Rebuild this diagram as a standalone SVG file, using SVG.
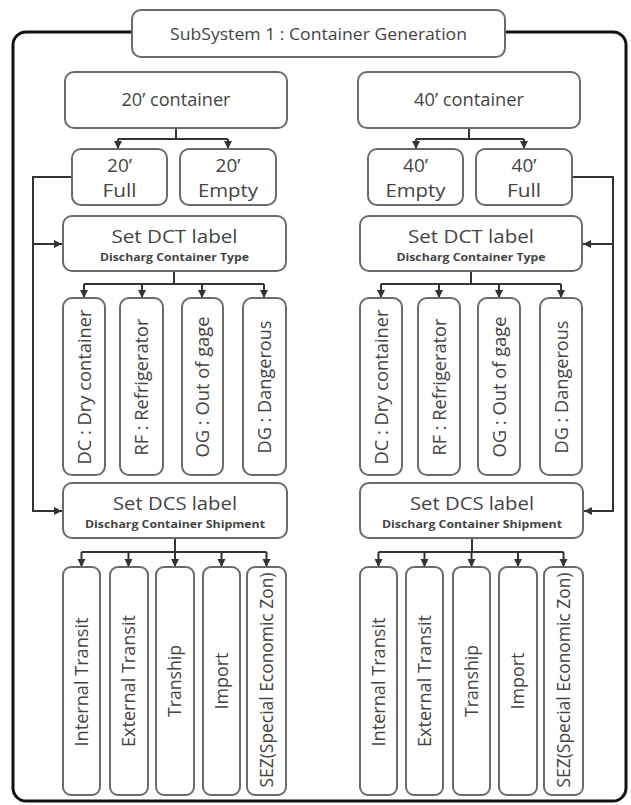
<svg xmlns="http://www.w3.org/2000/svg" width="631" height="805" viewBox="0 0 631 805">
<defs>
<marker id="ah" markerUnits="userSpaceOnUse" markerWidth="9" markerHeight="9" refX="8" refY="4" orient="auto">
<path d="M0,0 L8,4 L0,8 z" fill="#333"/>
</marker>
<style>
.box{fill:#fff;stroke:#6a6a6a;stroke-width:2}
.t{font-family:"Open Sans","DejaVu Sans",sans-serif;fill:#444;text-anchor:middle}
.big{font-size:19px}
.sm{font-size:10.5px;font-weight:bold}
.ln{fill:none;stroke:#333;stroke-width:2}
.ar{fill:none;stroke:#333;stroke-width:2;marker-end:url(#ah)}
</style>
</defs>
<rect width="631" height="805" fill="#fff"/>
<rect x="13" y="32" width="613" height="769" rx="13" fill="none" stroke="#111" stroke-width="3"/>

<g id="connectors">
<path class="ln" d="M176,128 V139 M118,139 H228"/>
<path class="ar" d="M118,139 V149"/>
<path class="ar" d="M228,139 V149"/>
<path class="ar" d="M72,177 H33 V511 H62"/>
<path class="ar" d="M33,244 H62"/>
<path class="ln" d="M174,271 V284 M84,284 H264"/>
<path class="ar" d="M84,284 V298"/>
<path class="ar" d="M142,284 V298"/>
<path class="ar" d="M202,284 V298"/>
<path class="ar" d="M264,284 V298"/>
<path class="ln" d="M175,538 V552 M81.5,552 H266.5"/>
<path class="ar" d="M81.5,552 V567"/>
<path class="ar" d="M128.5,552 V567"/>
<path class="ar" d="M175,552 V567"/>
<path class="ar" d="M221.5,552 V567"/>
<path class="ar" d="M266.5,552 V567"/>

<path class="ln" d="M469,128 V139 M416,139 H524"/>
<path class="ar" d="M416,139 V149"/>
<path class="ar" d="M524,139 V149"/>
<path class="ar" d="M572,177 H613 V511 H584"/>
<path class="ar" d="M613,244 H583"/>
<path class="ln" d="M471,271 V284 M381,284 H561"/>
<path class="ar" d="M381,284 V298"/>
<path class="ar" d="M439,284 V298"/>
<path class="ar" d="M499,284 V298"/>
<path class="ar" d="M561,284 V298"/>
<path class="ln" d="M472,538 V552 M378.5,552 H563.5"/>
<path class="ar" d="M378.5,552 V567"/>
<path class="ar" d="M424.5,552 V567"/>
<path class="ar" d="M471.5,552 V567"/>
<path class="ar" d="M518,552 V567"/>
<path class="ar" d="M563.5,552 V567"/>
</g>

<g id="title">
<rect class="box" x="132" y="10" width="373" height="47" rx="9"/>
<text class="t" x="318.5" y="40" font-size="17" textLength="297" lengthAdjust="spacingAndGlyphs">SubSystem 1 : Container Generation</text>
</g>

<!-- LEFT -->
<g id="c20">
<rect class="box" x="65" y="72" width="222" height="56" rx="9"/>
<text class="t big" x="176" y="106" textLength="109" lengthAdjust="spacingAndGlyphs">20’ container</text>
</g>
<g id="c20full">
<rect class="box" x="72" y="149" width="95" height="56" rx="9"/>
<text class="t big" x="119.5" y="172" font-size="20">20’</text>
<text class="t big" x="119.5" y="197" font-size="20" textLength="34" lengthAdjust="spacingAndGlyphs">Full</text>
</g>
<g id="c20empty">
<rect class="box" x="180" y="149" width="96" height="56" rx="9"/>
<text class="t big" x="228" y="172" font-size="20">20’</text>
<text class="t big" x="228" y="197" font-size="20" textLength="60" lengthAdjust="spacingAndGlyphs">Empty</text>
</g>
<g id="dct20">
<rect class="box" x="63" y="216" width="223" height="55" rx="9"/>
<text class="t big" x="174.5" y="243" font-size="20" textLength="126" lengthAdjust="spacingAndGlyphs">Set DCT label</text>
<text class="t sm" x="174.5" y="261" textLength="149" lengthAdjust="spacingAndGlyphs">Discharg Container Type</text>
</g>
<g id="dc20">
<rect class="box" x="63" y="298" width="42" height="177" rx="9"/>
<text class="t big" transform="translate(91,387) rotate(-90)" textLength="155" lengthAdjust="spacingAndGlyphs">DC : Dry container</text>
</g>
<g id="rf20">
<rect class="box" x="120" y="298" width="43" height="177" rx="9"/>
<text class="t big" transform="translate(148,387) rotate(-90)" textLength="137" lengthAdjust="spacingAndGlyphs">RF : Refrigerator</text>
</g>
<g id="og20">
<rect class="box" x="182" y="298" width="41" height="177" rx="9"/>
<text class="t big" transform="translate(209,387) rotate(-90)" textLength="141" lengthAdjust="spacingAndGlyphs">OG : Out of gage</text>
</g>
<g id="dg20">
<rect class="box" x="243" y="298" width="43" height="177" rx="9"/>
<text class="t big" transform="translate(271,387) rotate(-90)" textLength="133" lengthAdjust="spacingAndGlyphs">DG : Dangerous</text>
</g>
<g id="dcs20">
<rect class="box" x="63" y="483" width="224" height="55" rx="9"/>
<text class="t big" x="175" y="510" font-size="20" textLength="124" lengthAdjust="spacingAndGlyphs">Set DCS label</text>
<text class="t sm" x="175" y="528" textLength="180" lengthAdjust="spacingAndGlyphs">Discharg Container Shipment</text>
</g>
<g id="it20">
<rect class="box" x="63" y="567" width="37" height="228" rx="8"/>
<text class="t big" transform="translate(88,682) rotate(-90)" textLength="129" lengthAdjust="spacingAndGlyphs">Internal Transit</text>
</g>
<g id="et20">
<rect class="box" x="110" y="567" width="38" height="228" rx="8"/>
<text class="t big" transform="translate(135,681) rotate(-90)" textLength="132" lengthAdjust="spacingAndGlyphs">External Transit</text>
</g>
<g id="ts20">
<rect class="box" x="156" y="567" width="38" height="228" rx="8"/>
<text class="t big" transform="translate(181,681) rotate(-90)" textLength="72" lengthAdjust="spacingAndGlyphs">Tranship</text>
</g>
<g id="im20">
<rect class="box" x="203" y="567" width="37" height="228" rx="8"/>
<text class="t big" transform="translate(228,681) rotate(-90)" textLength="57" lengthAdjust="spacingAndGlyphs">Import</text>
</g>
<g id="sez20">
<rect class="box" x="247" y="567" width="39" height="228" rx="8"/>
<text class="t big" transform="translate(273,680) rotate(-90)" textLength="215" lengthAdjust="spacingAndGlyphs">SEZ(Special Economic Zon)</text>
</g>

<!-- RIGHT -->
<g id="c40">
<rect class="box" x="358" y="72" width="222" height="56" rx="9"/>
<text class="t big" x="469" y="106" textLength="110" lengthAdjust="spacingAndGlyphs">40’ container</text>
</g>
<g id="c40empty">
<rect class="box" x="368" y="149" width="95" height="56" rx="9"/>
<text class="t big" x="415.5" y="172" font-size="20">40’</text>
<text class="t big" x="415.5" y="197" font-size="20" textLength="60" lengthAdjust="spacingAndGlyphs">Empty</text>
</g>
<g id="c40full">
<rect class="box" x="476" y="149" width="96" height="56" rx="9"/>
<text class="t big" x="524" y="172" font-size="20">40’</text>
<text class="t big" x="524" y="197" font-size="20" textLength="34" lengthAdjust="spacingAndGlyphs">Full</text>
</g>
<g id="dct40">
<rect class="box" x="360" y="216" width="222" height="55" rx="9"/>
<text class="t big" x="471" y="243" font-size="20" textLength="126" lengthAdjust="spacingAndGlyphs">Set DCT label</text>
<text class="t sm" x="471" y="261" textLength="149" lengthAdjust="spacingAndGlyphs">Discharg Container Type</text>
</g>
<g id="dc40">
<rect class="box" x="360" y="298" width="42" height="177" rx="9"/>
<text class="t big" transform="translate(388,387) rotate(-90)" textLength="155" lengthAdjust="spacingAndGlyphs">DC : Dry container</text>
</g>
<g id="rf40">
<rect class="box" x="418" y="298" width="42" height="177" rx="9"/>
<text class="t big" transform="translate(446,387) rotate(-90)" textLength="137" lengthAdjust="spacingAndGlyphs">RF : Refrigerator</text>
</g>
<g id="og40">
<rect class="box" x="478" y="298" width="42" height="177" rx="9"/>
<text class="t big" transform="translate(506,387) rotate(-90)" textLength="141" lengthAdjust="spacingAndGlyphs">OG : Out of gage</text>
</g>
<g id="dg40">
<rect class="box" x="540" y="298" width="42" height="177" rx="9"/>
<text class="t big" transform="translate(568,387) rotate(-90)" textLength="133" lengthAdjust="spacingAndGlyphs">DG : Dangerous</text>
</g>
<g id="dcs40">
<rect class="box" x="360" y="483" width="223" height="55" rx="9"/>
<text class="t big" x="472" y="510" font-size="20" textLength="124" lengthAdjust="spacingAndGlyphs">Set DCS label</text>
<text class="t sm" x="472" y="528" textLength="180" lengthAdjust="spacingAndGlyphs">Discharg Container Shipment</text>
</g>
<g id="it40">
<rect class="box" x="360" y="567" width="37" height="228" rx="8"/>
<text class="t big" transform="translate(385,682) rotate(-90)" textLength="129" lengthAdjust="spacingAndGlyphs">Internal Transit</text>
</g>
<g id="et40">
<rect class="box" x="406" y="567" width="37" height="228" rx="8"/>
<text class="t big" transform="translate(431,681) rotate(-90)" textLength="132" lengthAdjust="spacingAndGlyphs">External Transit</text>
</g>
<g id="ts40">
<rect class="box" x="453" y="567" width="37" height="228" rx="8"/>
<text class="t big" transform="translate(478,681) rotate(-90)" textLength="72" lengthAdjust="spacingAndGlyphs">Tranship</text>
</g>
<g id="im40">
<rect class="box" x="499" y="567" width="38" height="228" rx="8"/>
<text class="t big" transform="translate(524,681) rotate(-90)" textLength="57" lengthAdjust="spacingAndGlyphs">Import</text>
</g>
<g id="sez40">
<rect class="box" x="544" y="567" width="39" height="228" rx="8"/>
<text class="t big" transform="translate(570,680) rotate(-90)" textLength="215" lengthAdjust="spacingAndGlyphs">SEZ(Special Economic Zon)</text>
</g>
</svg>
